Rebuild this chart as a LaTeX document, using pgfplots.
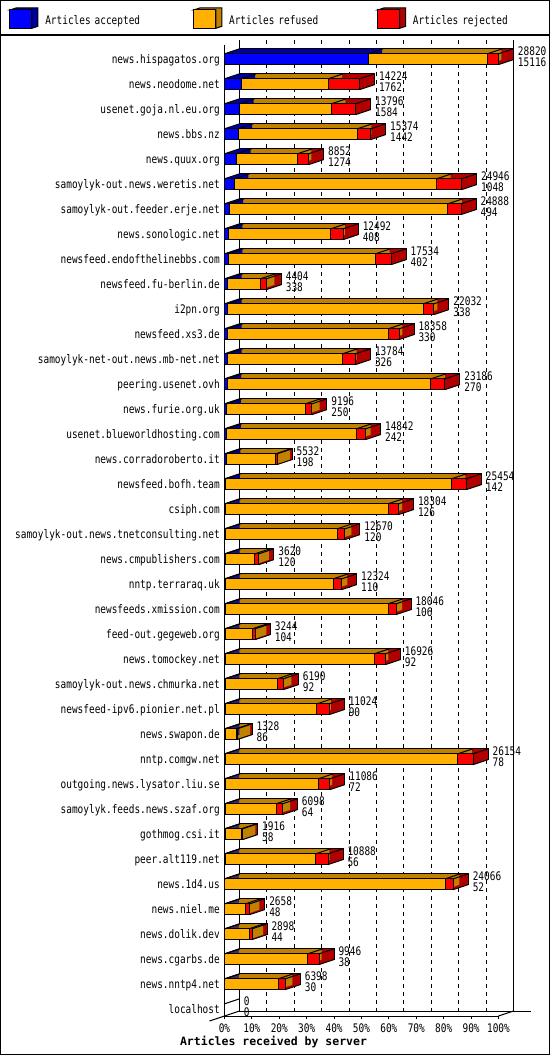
\documentclass[border=0pt]{standalone}
\usepackage{pgfplots}
\usepackage{pgfplotstable}
\pgfplotsset{compat=1.18}
\usepackage{fontspec}
\setmainfont{DejaVu Sans Mono}[FakeStretch=0.8]
\newfontfamily\xlabfont{DejaVu Sans Mono}
\newcommand\sz{\fontsize{11.8bp}{13bp}\selectfont}
\newcommand\numfont{\fontsize{11.8bp}{11bp}\selectfont}
\definecolor{cblue}{HTML}{0000FF}
\definecolor{dblue}{HTML}{0000A0}
\definecolor{corange}{HTML}{FFB000}
\definecolor{dorange}{HTML}{C08000}
\definecolor{cred}{HTML}{FF0000}
\definecolor{dred}{HTML}{B00000}
\pgfdeclareplotmark{topdiag}{%
  \pgfpathmoveto{\pgfpoint{0bp}{5.4bp}}\pgfpathlineto{\pgfpoint{15bp}{10.4bp}}%
  \pgfusepathqstroke}
\pgfdeclareplotmark{enddiag}{%
  \pgfpathmoveto{\pgfpoint{0bp}{5.4bp}}\pgfpathlineto{\pgfpoint{15bp}{10.4bp}}%
  \pgfpathmoveto{\pgfpoint{0bp}{-5.4bp}}\pgfpathlineto{\pgfpoint{15bp}{-0.4bp}}%
  \pgfusepathqstroke}
\pgfplotsset{
  cube/.style 2 args={legend image code/.code={
    \draw[line width=1bp, fill=#2] (0bp,14.3bp) -- (6bp,16.3bp) -- (28bp,16.3bp) -- (28bp,-2bp) -- (22bp,-4bp) -- (22bp,14.3bp) -- cycle;
    \draw[line width=1bp, fill=#1] (0bp,-4bp) rectangle (22bp,14.3bp);
  }}
}
\pgfplotstableread{
idx acc ref rej total cum
0 15116 12524 1180 28820 27640
1 1762 9132 3330 14224 10894
2 1584 9652 2560 13796 11236
3 1442 12532 1400 15374 13974
4 1274 6388 1190 8852 7662
5 1048 21268 2630 24946 22316
6 494 22994 1400 24888 23488
7 408 10784 1300 12492 11192
8 402 15482 1650 17534 15884
9 338 3436 630 4404 3774
10 338 20574 1120 22032 20912
11 330 16908 1120 18358 17238
12 326 12088 1370 13784 12414
13 270 21446 1470 23186 21716
14 250 8276 670 9196 8526
15 242 13650 950 14842 13892
16 198 5194 140 5532 5392
17 142 23732 1580 25454 23874
18 126 17088 1090 18304 17214
19 120 11740 810 12670 11860
20 120 3080 420 3620 3200
21 110 11334 880 12324 11444
22 106 17100 840 18046 17206
23 104 2825 315 3244 2929
24 92 15674 1160 16926 15766
25 92 5468 630 6190 5560
26 90 9634 1300 11024 9724
27 86 1132 110 1328 1218
28 78 24466 1610 26154 24544
29 72 9784 1230 11086 9856
30 64 5364 670 6098 5428
31 58 1718 140 1916 1776
32 56 9532 1300 10888 9588
33 52 23174 840 24066 23226
34 48 2155 455 2658 2203
35 44 2539 315 2898 2583
36 38 8718 1190 9946 8756
37 30 5633 735 6398 5663
38 0 0 0 0 0
}\data
\begin{document}
\begin{tikzpicture}
\begin{axis}[
  scale only axis, width=274bp, height=971bp,
  xmin=0, xmax=28820, ymin=-0.568, ymax=38.272, y dir=reverse,
  bar width=10.8bp,
  every axis plot/.append style={line width=1bp},
  axis x line=bottom, axis y line=left,
  axis line style={-, line width=1bp},
  /pgf/number format/assume math mode=true,
  scaled x ticks=false,
  xtick={0,2882,5764,8646,11528,14410,17292,20174,23056,25938,28820},
  xticklabels={0\%,10\%,20\%,30\%,40\%,50\%,60\%,70\%,80\%,90\%,100\%},
  xticklabel style={anchor=base, inner sep=0pt, yshift=-13bp, font=\sz},
  ytick={0,...,38},
  yticklabels={news.hispagatos.org,news.neodome.net,usenet.goja.nl.eu.org,news.bbs.nz,news.quux.org,samoylyk-out.news.weretis.net,samoylyk-out.feeder.erje.net,news.sonologic.net,newsfeed.endofthelinebbs.com,newsfeed.fu-berlin.de,i2pn.org,newsfeed.xs3.de,samoylyk-net-out.news.mb-net.net,peering.usenet.ovh,news.furie.org.uk,usenet.blueworldhosting.com,news.corradoroberto.it,newsfeed.bofh.team,csiph.com,samoylyk-out.news.tnetconsulting.net,news.cmpublishers.com,nntp.terraraq.uk,newsfeeds.xmission.com,feed-out.gegeweb.org,news.tomockey.net,samoylyk-out.news.chmurka.net,newsfeed-ipv6.pionier.net.pl,news.swapon.de,nntp.comgw.net,outgoing.news.lysator.liu.se,samoylyk.feeds.news.szaf.org,gothmog.csi.it,peer.alt119.net,news.1d4.us,news.niel.me,news.dolik.dev,news.cgarbs.de,news.nntp4.net,localhost},
  yticklabel style={anchor=base east, inner sep=0pt, xshift=-1.5bp, yshift=-4bp, font=\sz},
  tick align=outside, major tick length=3bp,
  xtick style={black, line width=1bp},
  ytick style={draw=none},
  xmajorgrids,
  major grid style={black, line width=1bp, dash pattern=on 4bp off 4bp, xshift=15bp, yshift=5bp},
  xlabel={Articles received by server},
  xlabel style={at={(axis description cs:0.179,0)}, anchor=base, inner sep=0pt, yshift=-29.7bp, font=\xlabfont\bfseries\fontsize{11.5bp}{13bp}\selectfont},
  clip=false,
  legend columns=3,
  legend cell align=left,
  legend style={at={(-0.78467,1.03862)}, anchor=north west, draw=none, fill=none,
    inner sep=0pt, outer sep=0pt, row sep=0pt, column sep=0pt, font=\sz,
    /tikz/every odd column/.append style={column sep=6.8bp},
    nodes={inner sep=0pt, text width=148bp, anchor=base west}},
  bars/.style={xbar, bar shift=0pt, x filter/.expression={\thisrow{total}==0 ? nan : x}},
  edges/.style={only marks, mark=#1, mark options={black, line width=1bp}},
]
\addlegendimage{cube={cblue}{dblue}}
\addlegendentry{Articles accepted}
\addlegendimage{cube={corange}{dorange}}
\addlegendentry{Articles refused}
\addlegendimage{cube={cred}{dred}}
\addlegendentry{Articles rejected}

\draw[line width=1bp] ([shift={(15bp,5bp)}]axis description cs:0,0) -- ([shift={(15bp,5bp)}]axis description cs:0,1);
\draw[line width=1bp] ([shift={(15bp,5bp)}]axis description cs:1,0) -- ([shift={(15bp,5bp)}]axis description cs:1,1);
\draw[line width=1bp] ([shift={(15bp,5bp)}]axis description cs:0,0) -- ([shift={(15bp,5bp)}]axis description cs:1.064,0);
\draw[line width=1bp] (axis description cs:1,0) -- ++(15bp,5bp);
\draw[line width=1bp] ([shift={(-15bp,-5bp)}]axis description cs:0,0) -- ++(30bp,10bp);

% depth (top and right faces): shifted copies of the bars
\addplot[bars, fill=dred, draw=black, xshift=15bp, yshift=5bp] table[x=total, y=idx] {\data};
\pgfplotsinvokeforeach{14,13,...,1}{
  \addplot[bars, fill=dred, draw=none, xshift=#1bp, yshift=#1*0.33333bp] table[x=total, y=idx] {\data};
}
\pgfplotsinvokeforeach{14,13,...,1}{
  \addplot[bars, fill=dorange, draw=none, xshift=#1bp, yshift=#1*0.33333bp] table[x=cum, y=idx] {\data};
}
\pgfplotsinvokeforeach{14,13,...,1}{
  \addplot[bars, fill=dblue, draw=none, xshift=#1bp, yshift=#1*0.33333bp] table[x=acc, y=idx] {\data};
}
% front faces
\addplot[bars, fill=cred, draw=black] table[x=total, y=idx] {\data};
\addplot[bars, fill=corange, draw=black] table[x=cum, y=idx] {\data};
\addplot[bars, fill=cblue, draw=black] table[x=acc, y=idx] {\data};
% depth edges
\addplot[edges=topdiag] table[x expr=0, y=idx] {\data};
\addplot[edges=topdiag, x filter/.expression={\thisrow{total}==0 ? nan : x}] table[x=acc, y=idx] {\data};
\addplot[edges=topdiag, x filter/.expression={\thisrow{total}==0 ? nan : x}] table[x=cum, y=idx] {\data};
\addplot[edges=enddiag, x filter/.expression={\thisrow{total}==0 ? nan : x}] table[x=total, y=idx] {\data};
% value labels
\addplot[draw=none, mark=none,
  point meta=explicit symbolic,
  visualization depends on={\thisrow{acc} \as \accv},
  nodes near coords={\pgfplotspointmeta\\\pgfmathprintnumber[fixed,precision=0,1000 sep={}]{\accv}},
  every node near coord/.append style={anchor=west, align=left, inner sep=0pt, xshift=19bp, yshift=2.7bp, font=\numfont, text=black}]
  table[x=total, y=idx, meta=total] {\data};
\end{axis}
\draw[line width=1.5bp] (-223.75bp,1015.25bp) rectangle (324.75bp,-38.25bp);
\draw[line width=1.5bp] (-224.5bp,981bp) -- (325.5bp,981bp);
\pgfresetboundingbox
\useasboundingbox (-224.5bp,-39bp) rectangle (325.5bp,1016bp);
\end{tikzpicture}
\end{document}
